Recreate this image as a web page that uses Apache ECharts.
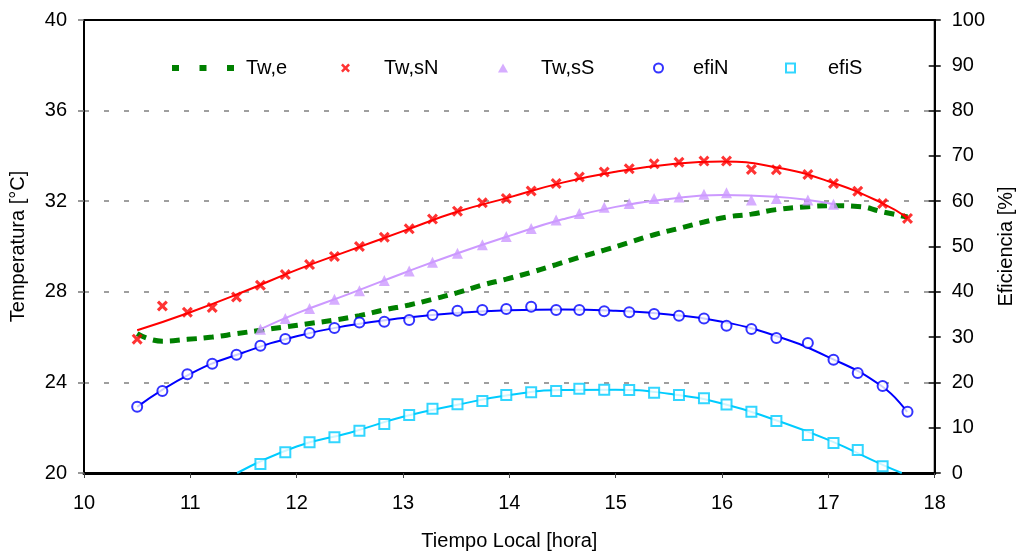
<!DOCTYPE html>
<html>
<head>
<meta charset="utf-8">
<script src="https://cdn.jsdelivr.net/npm/echarts@6/dist/echarts.min.js"></script>
<style>
html,body{margin:0;padding:0;background:#fff;}
#grafico{width:1024px;height:556px;}
</style>
</head>
<body>
<div id="grafico"></div>
<script>
// horas de medicion
var horas = [10.5, 10.737, 10.972, 11.206, 11.434, 11.659, 11.893, 12.121, 12.355, 12.59, 12.824,
             13.058, 13.277, 13.512, 13.746, 13.971, 14.205, 14.44, 14.658, 14.892, 15.127, 15.361,
             15.595, 15.83, 16.042, 16.276, 16.511, 16.807, 17.048, 17.276, 17.51, 17.744];
var horasSS = horas.slice(5, 29);
var horasS = horas.slice(5, 31);

// temperaturas [°C]
var twE = [26.15, 25.82, 25.9, 26.0, 26.15, 26.3, 26.45, 26.6, 26.75, 26.95, 27.2,
           27.42, 27.67, 27.96, 28.3, 28.56, 28.86, 29.2, 29.52, 29.84, 30.18, 30.52,
           30.8, 31.08, 31.3, 31.43, 31.63, 31.76, 31.8, 31.77, 31.53, 31.3];
var twSN = [25.91, 27.37, 27.1, 27.31, 27.77, 28.29, 28.76, 29.2, 29.56, 30.0, 30.41,
            30.78, 31.21, 31.56, 31.93, 32.12, 32.45, 32.78, 33.07, 33.29, 33.43, 33.65,
            33.72, 33.77, 33.77, 33.4, 33.39, 33.18, 32.78, 32.44, 31.9, 31.24];
var twSS = [26.35, 26.82, 27.26, 27.67, 28.05, 28.5, 28.92, 29.31, 29.7, 30.08, 30.44, 30.8,
            31.17, 31.46, 31.73, 31.9, 32.12, 32.19, 32.31, 32.37, 32.05, 32.12, 32.05, 31.87];

// eficiencias [%]
var efiN = [14.6, 18.1, 21.8, 24.1, 26.1, 28.1, 29.6, 30.9, 32.0, 33.2, 33.4,
            33.8, 34.9, 35.8, 36.0, 36.2, 36.7, 36.0, 36.0, 35.7, 35.5, 35.1,
            34.7, 34.1, 32.5, 31.8, 29.8, 28.7, 25.0, 22.1, 19.2, 13.5];
var efiS = [2.0, 4.6, 6.8, 7.9, 9.3, 10.8, 12.8, 14.2, 15.2, 15.9, 17.2, 17.8, 18.1,
            18.6, 18.4, 18.3, 17.7, 17.2, 16.5, 15.1, 13.5, 11.5, 8.4, 6.6, 5.1, 1.5];

// lineas de tendencia
var ajSNx = [10.5, 11, 11.5, 12, 12.5, 13, 13.5, 14, 14.5, 15, 15.5, 16, 16.5, 17, 17.5, 17.75];
var ajSNy = [26.3, 27.1, 28.0, 28.97, 29.83, 30.68, 31.52, 32.17, 32.82, 33.3, 33.62, 33.75, 33.5, 32.88, 31.93, 31.25];
var ajSSx = [11.66, 12, 12.5, 13, 13.5, 14, 14.5, 15, 15.5, 16, 16.5, 17.05];
var ajSSy = [26.35, 27.05, 27.92, 28.82, 29.68, 30.47, 31.2, 31.75, 32.1, 32.27, 32.2, 31.87];
var ajNx = [10.5, 11, 11.5, 12, 12.5, 13, 13.5, 14, 14.5, 15, 15.5, 16, 16.5, 17, 17.5, 17.74];
var ajNy = [14.6, 21.9, 26.6, 30.2, 32.6, 34.2, 35.3, 35.9, 36.1, 35.8, 35.0, 33.4, 30.3, 25.6, 19.2, 13.5];
var ajSx = [11.44, 12, 12.5, 13, 13.5, 14, 14.5, 15, 15.5, 16, 16.5, 17, 17.5, 17.69];
var ajSy = [0, 5.85, 8.9, 12.4, 15.0, 17.2, 18.3, 18.4, 17.5, 15.35, 11.7, 7.3, 1.9, 0];

function pares(xs, ys) {
    return ys.map(function (y, i) { return [xs[i], y]; });
}

var fuente = 'Liberation Sans, Arial, sans-serif';
var cruz = 'path://M0,2L2,0L5,3L8,0L10,2L7,5L10,8L8,10L5,7L2,10L0,8L3,5Z';

function leyenda(nombre, izq, ancho, alto, sep) {
    return {
        data: [nombre], left: izq, top: 58, padding: 0,
        itemWidth: ancho, itemHeight: alto,
        textStyle: { fontFamily: fuente, fontSize: 20, color: '#000', padding: [0, 0, 0, sep] },
        selectedMode: false
    };
}

var leyendaE = leyenda('Tw,e', 169, 62, 6, 7);
leyendaE.lineStyle = { type: [7, 20.5], width: 6, cap: 'butt' };

var option = {
    animation: false,
    backgroundColor: '#fff',
    grid: { left: 83, right: 86, top: 20, bottom: 81, show: true, borderColor: '#000', borderWidth: 2 },
    legend: [
        leyendaE,
        leyenda('Tw,sN', 341, 9, 9, 29),
        leyenda('Tw,sS', 498, 10, 9, 28),
        leyenda('efiN', 653, 9, 9, 25),
        leyenda('efiS', 785, 9, 9, 28)
    ],
    xAxis: {
        type: 'value', min: 10, max: 18, interval: 1,
        name: 'Tiempo Local [hora]', nameLocation: 'middle', nameGap: 58,
        nameTextStyle: { fontFamily: fuente, fontSize: 20, color: '#000' },
        axisLine: { lineStyle: { color: '#000', width: 3 } },
        axisTick: { length: 5, lineStyle: { color: '#444', width: 1 } },
        axisLabel: { fontFamily: fuente, fontSize: 20, color: '#000', margin: 20 },
        splitLine: { show: false }
    },
    yAxis: [{
        type: 'value', min: 20, max: 40, interval: 4, position: 'left',
        name: 'Temperatura [°C]', nameLocation: 'middle', nameGap: 56,
        nameTextStyle: { fontFamily: fuente, fontSize: 20, color: '#000' },
        axisLine: { show: true, lineStyle: { color: '#000', width: 2 } },
        axisTick: { show: true, length: 6, lineStyle: { color: '#777', width: 1.5 } },
        axisLabel: { fontFamily: fuente, fontSize: 20, color: '#000', margin: 17 },
        splitLine: {
            show: true, showMinLine: false, showMaxLine: false,
            lineStyle: { color: '#808080', width: 1.5, type: [5, 15] }
        }
    }, {
        type: 'value', min: 0, max: 100, interval: 10, position: 'right',
        name: 'Eficiencia [%]', nameLocation: 'middle', nameGap: 60,
        nameTextStyle: { fontFamily: fuente, fontSize: 20, color: '#000' },
        axisLine: { show: true, lineStyle: { color: '#000', width: 2 } },
        axisTick: { show: true, length: 6, lineStyle: { color: '#000', width: 1.5 } },
        axisLabel: { fontFamily: fuente, fontSize: 20, color: '#000', margin: 17 },
        splitLine: { show: false }
    }, {
        // marcas hacia adentro del eje derecho
        type: 'value', min: 0, max: 100, interval: 10, position: 'right',
        axisLine: { show: false },
        axisTick: { show: true, inside: true, length: 6, lineStyle: { color: '#000', width: 1.5 } },
        axisLabel: { show: false },
        splitLine: { show: false }
    }],
    series: [
        {
            name: 'Tw,e', type: 'line', yAxisIndex: 0, smooth: true, symbol: 'none', z: 2,
            color: '#008000',
            lineStyle: { color: '#008000', width: 5, type: [10, 7], cap: 'butt' },
            data: pares(horas, twE)
        },
        {
            name: 'ajuste Tw,sN', type: 'line', yAxisIndex: 0, smooth: true, symbol: 'none', z: 2,
            lineStyle: { color: '#FF0000', width: 2 }, data: pares(ajSNx, ajSNy)
        },
        {
            name: 'ajuste Tw,sS', type: 'line', yAxisIndex: 0, smooth: true, symbol: 'none', z: 2,
            lineStyle: { color: '#CC99FF', width: 2 }, data: pares(ajSSx, ajSSy)
        },
        {
            name: 'ajuste efiN', type: 'line', yAxisIndex: 1, smooth: true, symbol: 'none', z: 2,
            lineStyle: { color: '#0000FF', width: 2 }, data: pares(ajNx, ajNy)
        },
        {
            name: 'ajuste efiS', type: 'line', yAxisIndex: 1, smooth: true, symbol: 'none', z: 2,
            lineStyle: { color: '#00CCFF', width: 2 }, data: pares(ajSx, ajSy)
        },
        {
            name: 'Tw,sN', type: 'scatter', yAxisIndex: 0, symbol: cruz, symbolSize: 11, z: 3,
            itemStyle: { color: '#FF0000' }, data: pares(horas, twSN)
        },
        {
            name: 'Tw,sS', type: 'scatter', yAxisIndex: 0, symbol: 'triangle', symbolSize: 11, z: 3,
            itemStyle: { color: '#CC99FF' }, data: pares(horasSS, twSS)
        },
        {
            name: 'efiN', type: 'scatter', yAxisIndex: 1, symbol: 'emptyCircle', symbolSize: 10, z: 3,
            itemStyle: { color: '#0000FF', borderWidth: 2 }, data: pares(horas, efiN)
        },
        {
            name: 'efiS', type: 'scatter', yAxisIndex: 1, symbol: 'emptyRect', symbolSize: 10, z: 3,
            itemStyle: { color: '#00CCFF', borderWidth: 2 }, data: pares(horasS, efiS)
        }
    ]
};

var grafico = echarts.init(document.getElementById('grafico'));
grafico.setOption(option);
</script>
</body>
</html>
